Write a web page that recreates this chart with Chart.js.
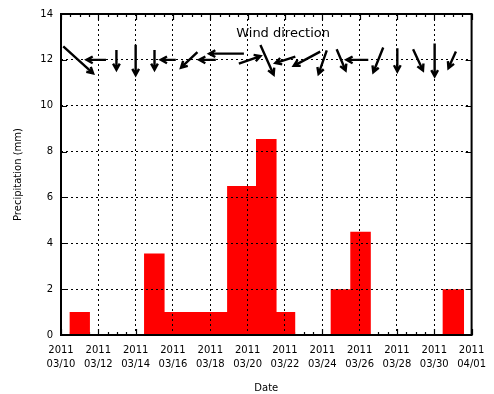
<!DOCTYPE html>
<html>
<head>
<meta charset="utf-8">
<script src="https://cdn.jsdelivr.net/npm/chart.js@4/dist/chart.umd.min.js"></script>
<style>
  html, body { margin: 0; padding: 0; background: #fff; }
  #wrap { width: 494px; height: 394px; }
</style>
</head>
<body>
<div id="wrap"><canvas id="c" width="494" height="394"></canvas></div>
<script>
// Days are counted from 2011-03-10 00:00.
const tickYear = '2011';
const xTickLabels = ['03/10', '03/12', '03/14', '03/16', '03/18', '03/20',
                     '03/22', '03/24', '03/26', '03/28', '03/30', '04/01'];

// Precipitation boxes: start day, end day, amount (mm)
const boxFrom = [0.45, 4.45, 5.55, 8.9, 10.45, 11.55, 14.45, 15.5, 20.45];
const boxTo   = [1.55, 5.55, 8.9, 10.45, 11.55, 12.55, 15.5, 16.6, 21.6];
const precip  = [1.0, 3.55, 1.0, 6.5, 8.55, 1.0, 2.0, 4.5, 2.0];

// Wind vectors: centre day, level (mm axis), east component (days), north component (mm)
const windDay   = [0.92, 1.89, 2.97, 4.0, 5.01, 5.75, 6.87, 7.85, 8.87, 10.11, 11.04,
                   12.02, 13.18, 14.02, 15.01, 15.88, 17.0, 18.02, 19.13, 20.02, 20.96];
const windLevel = [12, 12, 12, 12, 12, 12, 12, 12, 12.27, 12, 12,
                   12, 12.05, 11.9, 12, 12, 12, 12, 12, 12, 12];
const windU     = [1.60, -1.04, 0, 0, 0, -0.80, -0.88, -0.89, -1.86, 1.16, 0.71,
                   -1.07, -1.42, -0.44, 0.48, -1.17, -0.53, 0, 0.53, 0, -0.40];
const windV     = [-1.18, 0, -0.86, -1.32, -0.86, 0, -0.68, 0, 0, 0.33, -1.29,
                   -0.28, -0.62, -1.03, -0.93, 0, -1.08, -1.01, -0.93, -1.43, -0.72];
const windTitle = 'Wind direction';
const windTitleAt = { x: 11.9, y: 13.15 };

// Stepped outline of the boxes (horizontal run first, then the jump)
const precipPoints = [];
boxFrom.forEach((x0, i) => {
  if (i > 0 && boxTo[i - 1] < x0) precipPoints.push({ x: boxTo[i - 1], y: 0 });
  precipPoints.push({ x: x0, y: precip[i] });
});
precipPoints.push({ x: boxTo[boxTo.length - 1], y: 0 });

const FONT = 'DejaVu Sans';

// Inward tick marks under the boxes, solid frame on top
const framePlugin = {
  id: 'frame',
  beforeDatasetsDraw(chart) {
    const { ctx, chartArea: a, scales: { x, y } } = chart;
    ctx.save();
    ctx.strokeStyle = '#000';
    ctx.lineWidth = 1.2;
    ctx.beginPath();
    for (let d = 0; d <= 22 + 1e-9; d += 0.5) {
      const px = Math.round(x.getPixelForValue(d)) + 0.5;
      const len = (Math.abs(d % 2) < 1e-9) ? 6 : 3;
      ctx.moveTo(px, a.bottom); ctx.lineTo(px, a.bottom - len);
      ctx.moveTo(px, a.top); ctx.lineTo(px, a.top + len);
    }
    for (let v = 0; v <= 14; v += 2) {
      const py = Math.round(y.getPixelForValue(v)) + 0.5;
      ctx.moveTo(a.left, py); ctx.lineTo(a.left + 6, py);
      ctx.moveTo(a.right, py); ctx.lineTo(a.right - 6, py);
    }
    ctx.stroke();
    ctx.restore();
  },
  afterDraw(chart) {
    const { ctx, chartArea: a } = chart;
    ctx.save();
    ctx.strokeStyle = '#000';
    ctx.lineWidth = 2;
    ctx.strokeRect(a.left, a.top, a.right - a.left, a.bottom - a.top);
    ctx.restore();
  }
};

// Wind arrows centred on their day, plus their caption
const windPlugin = {
  id: 'wind',
  afterDraw(chart) {
    const { ctx, scales: { x, y } } = chart;
    ctx.save();
    ctx.strokeStyle = '#000';
    ctx.lineWidth = 2.4;
    ctx.lineCap = 'butt';
    ctx.lineJoin = 'miter';
    windDay.forEach((d, i) => {
      const x0 = x.getPixelForValue(d - windU[i] / 2);
      const y0 = y.getPixelForValue(windLevel[i] - windV[i] / 2);
      const x1 = x.getPixelForValue(d + windU[i] / 2);
      const y1 = y.getPixelForValue(windLevel[i] + windV[i] / 2);
      const ang = Math.atan2(y1 - y0, x1 - x0);
      const h = 7, spread = 0.5;
      ctx.beginPath();
      ctx.moveTo(x0, y0);
      ctx.lineTo(x1, y1);
      ctx.moveTo(x1 - h * Math.cos(ang - spread), y1 - h * Math.sin(ang - spread));
      ctx.lineTo(x1, y1);
      ctx.lineTo(x1 - h * Math.cos(ang + spread), y1 - h * Math.sin(ang + spread));
      ctx.stroke();
    });
    ctx.fillStyle = '#000';
    ctx.font = '13px "' + FONT + '"';
    ctx.textAlign = 'center';
    ctx.textBaseline = 'middle';
    ctx.fillText(windTitle, x.getPixelForValue(windTitleAt.x), y.getPixelForValue(windTitleAt.y));
    ctx.restore();
  }
};

new Chart(document.getElementById('c'), {
  type: 'line',
  data: {
    datasets: [{
      label: 'Precipitation',
      data: precipPoints,
      stepped: 'before',
      fill: 'origin',
      backgroundColor: 'rgb(255,0,0)',
      borderColor: 'rgba(0,0,0,0)',
      borderWidth: 1,
      pointRadius: 0
    }]
  },
  options: {
    responsive: false,
    animation: false,
    events: [],
    layout: { padding: { top: 10, right: 20, left: 0, bottom: 0 } },
    plugins: { legend: { display: false }, tooltip: { enabled: false } },
    scales: {
      x: {
        type: 'linear',
        min: 0,
        max: 22,
        afterFit(s) { s.height = 59; },
        ticks: {
          stepSize: 2,
          autoSkip: false,
          maxRotation: 0,
          padding: 8,
          color: '#000',
          font: { family: FONT, size: 10, lineHeight: 1.4 },
          callback: (v, i) => [tickYear, xTickLabels[i]]
        },
        grid: { color: '#000', lineWidth: 1, drawTicks: false, z: 1 },
        border: { display: false, dash: [2, 3] },
        title: {
          display: true,
          text: 'Date',
          color: '#000',
          font: { family: FONT, size: 10, lineHeight: 1.2 },
          padding: { top: 0, bottom: 0 }
        }
      },
      y: {
        min: 0,
        max: 14,
        afterFit(s) { s.width = 61; },
        ticks: {
          stepSize: 2,
          padding: 8,
          color: '#000',
          font: { family: FONT, size: 10 }
        },
        grid: { color: '#000', lineWidth: 1, drawTicks: false, z: 1 },
        border: { display: false, dash: [2, 3] },
        title: {
          display: true,
          text: 'Precipitation (mm)',
          color: '#000',
          font: { family: FONT, size: 10, lineHeight: 1.2 },
          padding: { top: 12, bottom: 0 }
        }
      }
    }
  },
  plugins: [framePlugin, windPlugin]
});
</script>
</body>
</html>
